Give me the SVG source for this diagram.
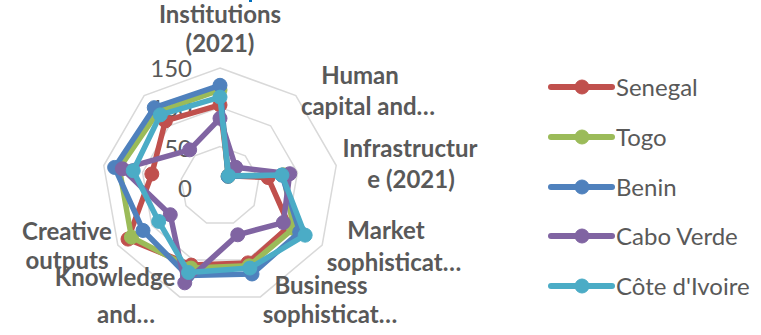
<svg xmlns="http://www.w3.org/2000/svg" width="761" height="335" viewBox="0 0 761 335">
<style>
.grid{fill:none;stroke:#d9d9d9;stroke-width:1.5}
.ser{fill:none;stroke-width:5.5;stroke-linejoin:round;stroke-linecap:round}
.cat{font-family:Lato,"Open Sans","Liberation Sans",sans-serif;font-weight:bold;font-size:24px;fill:#595959;text-anchor:middle}
.tick{font-family:Lato,"Open Sans","Liberation Sans",sans-serif;font-size:24px;fill:#595959;text-anchor:end}
.leg{font-family:Lato,"Open Sans","Liberation Sans",sans-serif;font-size:24px;fill:#595959}
.sen{stroke:#C0504D;fill:#C0504D}
.tog{stroke:#9BBB59;fill:#9BBB59}
.ben{stroke:#4F81BD;fill:#4F81BD}
.cab{stroke:#8064A2;fill:#8064A2}
.cot{stroke:#4BACC6;fill:#4BACC6}
.legline{stroke-width:6;stroke-linecap:round}
</style>
<rect width="761" height="335" fill="#ffffff"/>
<rect x="249" y="0" width="3" height="2" fill="#0070C0"/>
<g id="grid">
<polygon class="grid" points="220,68 295.85,95.61 336.21,165.51 322.19,245 260.36,296.88 179.64,296.88 117.81,245 103.79,165.51 144.15,95.61"/>
<polygon class="grid" points="220,107.33 270.57,125.74 297.47,172.34 288.13,225.33 246.9,259.92 193.1,259.92 151.87,225.33 142.53,172.34 169.43,125.74"/>
<polygon class="grid" points="220,146.67 245.28,155.87 258.73,179.17 254.06,205.67 233.45,222.96 206.55,222.96 185.94,205.67 181.27,179.17 194.72,155.87"/>
</g>
<g id="axis-ticks">
<text class="tick" x="192" y="77">150</text>
<text class="tick" x="192" y="117">100</text>
<text class="tick" x="192" y="157">50</text>
<text class="tick" x="192" y="197">0</text>
</g>
<g id="connectors">
<g id="series-senegal">
<polygon class="ser sen" style="fill:none" points="220,104.97 228.59,175.76 268.03,177.53 289.49,226.12 247.98,262.88 191.21,265.09 128.03,239.1 151.82,173.98 165.39,120.92"/>
<g class="sen" stroke="none"><circle cx="220" cy="104.97" r="7"/><circle cx="228.59" cy="175.76" r="7"/><circle cx="268.03" cy="177.53" r="7"/><circle cx="289.49" cy="226.12" r="7"/><circle cx="247.98" cy="262.88" r="7"/><circle cx="191.21" cy="265.09" r="7"/><circle cx="128.03" cy="239.1" r="7"/><circle cx="151.82" cy="173.98" r="7"/><circle cx="165.39" cy="120.92" r="7"/></g>
</g>
<g id="series-togo">
<polygon class="ser tog" style="fill:none" points="220,90.03 228.09,176.36 283.53,174.8 293.58,228.48 249.06,265.84 190.94,268.05 131.43,237.13 119.29,168.25 157.8,111.88"/>
<g class="tog" stroke="none"><circle cx="220" cy="90.03" r="7"/><circle cx="228.09" cy="176.36" r="7"/><circle cx="283.53" cy="174.8" r="7"/><circle cx="293.58" cy="228.48" r="7"/><circle cx="249.06" cy="265.84" r="7"/><circle cx="190.94" cy="268.05" r="7"/><circle cx="131.43" cy="237.13" r="7"/><circle cx="119.29" cy="168.25" r="7"/><circle cx="157.8" cy="111.88" r="7"/></g>
</g>
<g id="series-benin">
<polygon class="ser ben" style="fill:none" points="220,85.31 228.09,176.36 281.97,175.08 299.71,232.02 252.02,273.97 187.44,275.45 143.02,230.45 114.64,167.43 154.26,107.66"/>
<g class="ben" stroke="none"><circle cx="220" cy="85.31" r="7"/><circle cx="228.09" cy="176.36" r="7"/><circle cx="281.97" cy="175.08" r="7"/><circle cx="299.71" cy="232.02" r="7"/><circle cx="252.02" cy="273.97" r="7"/><circle cx="187.44" cy="275.45" r="7"/><circle cx="143.02" cy="230.45" r="7"/><circle cx="114.64" cy="167.43" r="7"/><circle cx="154.26" cy="107.66" r="7"/></g>
</g>
<g id="series-cabo-verde">
<polygon class="ser cab" style="fill:none" points="220,118.35 235.68,167.32 289.72,173.71 283.36,222.58 237.76,234.79 184.76,282.84 170.27,214.72 122.39,168.79 189.66,149.84"/>
<g class="cab" stroke="none"><circle cx="220" cy="118.35" r="7"/><circle cx="235.68" cy="167.32" r="7"/><circle cx="289.72" cy="173.71" r="7"/><circle cx="283.36" cy="222.58" r="7"/><circle cx="237.76" cy="234.79" r="7"/><circle cx="184.76" cy="282.84" r="7"/><circle cx="170.27" cy="214.72" r="7"/><circle cx="122.39" cy="168.79" r="7"/><circle cx="189.66" cy="149.84" r="7"/></g>
</g>
<g id="series-cote-divoire">
<polygon class="ser cot" style="fill:none" points="220,97.11 228.59,175.76 281.97,175.08 305.15,235.17 249.86,268.05 188.52,272.49 158.69,221.4 133.23,170.7 160.33,114.89"/>
<g class="cot" stroke="none"><circle cx="220" cy="97.11" r="7"/><circle cx="228.59" cy="175.76" r="7"/><circle cx="281.97" cy="175.08" r="7"/><circle cx="305.15" cy="235.17" r="7"/><circle cx="249.86" cy="268.05" r="7"/><circle cx="188.52" cy="272.49" r="7"/><circle cx="158.69" cy="221.4" r="7"/><circle cx="133.23" cy="170.7" r="7"/><circle cx="160.33" cy="114.89" r="7"/></g>
</g>
</g>
<g id="category-labels">
<g id="lbl-institutions"><text class="cat" x="220" y="23">Institutions</text><text class="cat" x="220" y="52">(2021)</text></g>
<g id="lbl-human"><text class="cat" x="360" y="84">Human</text><text class="cat" x="368" y="115">capital and…</text></g>
<g id="lbl-infra"><text class="cat" x="410" y="157">Infrastructur</text><text class="cat" x="411" y="188">e (2021)</text></g>
<g id="lbl-market"><text class="cat" x="386" y="239">Market</text><text class="cat" x="394" y="271">sophisticat…</text></g>
<g id="lbl-business"><text class="cat" x="321" y="294">Business</text><text class="cat" x="330" y="323">sophisticat…</text></g>
<g id="lbl-knowledge"><text class="cat" x="115" y="286">Knowledge</text><text class="cat" x="126" y="323">and…</text></g>
<g id="lbl-creative"><text class="cat" x="67" y="240">Creative</text><text class="cat" x="67" y="269">outputs</text></g>
</g>
<g id="legend">
<g id="leg-senegal"><line class="legline sen" x1="551" y1="87" x2="612" y2="87"/><circle class="sen" cx="582" cy="87" r="7"/><text class="leg" x="616" y="95.5">Senegal</text></g>
<g id="leg-togo"><line class="legline tog" x1="551" y1="137" x2="612" y2="137"/><circle class="tog" cx="582" cy="137" r="7"/><text class="leg" x="616" y="145.5">Togo</text></g>
<g id="leg-benin"><line class="legline ben" x1="551" y1="187" x2="612" y2="187"/><circle class="ben" cx="582" cy="187" r="7"/><text class="leg" x="616" y="195.5">Benin</text></g>
<g id="leg-cabo"><line class="legline cab" x1="551" y1="236" x2="612" y2="236"/><circle class="cab" cx="582" cy="236" r="7"/><text class="leg" x="616" y="244.5">Cabo Verde</text></g>
<g id="leg-cote"><line class="legline cot" x1="551" y1="286" x2="612" y2="286"/><circle class="cot" cx="582" cy="286" r="7"/><text class="leg" x="616" y="294.5">Côte d'Ivoire</text></g>
</g>
</svg>
